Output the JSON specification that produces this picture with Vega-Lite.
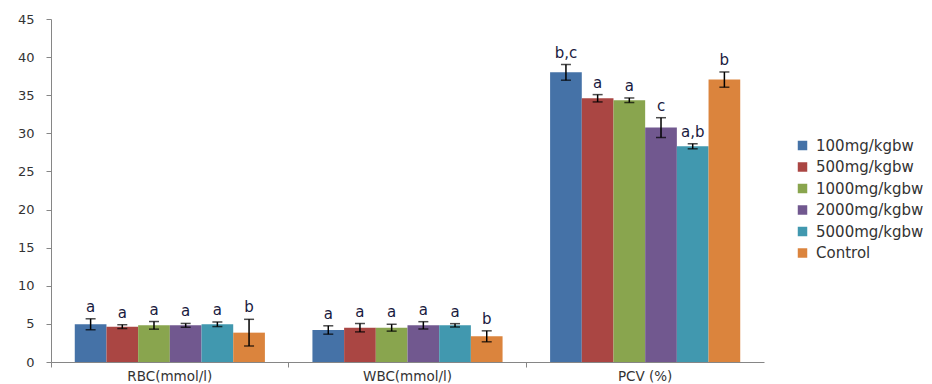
{
  "$schema": "https://vega.github.io/schema/vega-lite/v6.json",
  "autosize": "none",
  "width": 713,
  "height": 343,
  "padding": {"left": 51, "top": 19, "right": 168, "bottom": 22},
  "background": "white",
  "config": {
    "view": {"stroke": null},
    "font": "DejaVu Sans",
    "axisY": {
      "values": [0, 5, 10, 15, 20, 25, 30, 35, 40, 45],
      "grid": false,
      "labelFontSize": 13,
      "labelColor": "#333333",
      "labelPadding": 12,
      "domainColor": "#868686",
      "tickColor": "#868686",
      "tickSize": 5,
      "title": null
    }
  },
  "data": {
    "values": [
      {"param": "RBC(mmol/l)", "group": "100mg/kgbw", "v": 4.95, "e": 0.72, "lab": "a"},
      {"param": "RBC(mmol/l)", "group": "500mg/kgbw", "v": 4.64, "e": 0.25, "lab": "a"},
      {"param": "RBC(mmol/l)", "group": "1000mg/kgbw", "v": 4.81, "e": 0.5, "lab": "a"},
      {"param": "RBC(mmol/l)", "group": "2000mg/kgbw", "v": 4.81, "e": 0.25, "lab": "a"},
      {"param": "RBC(mmol/l)", "group": "5000mg/kgbw", "v": 4.95, "e": 0.3, "lab": "a"},
      {"param": "RBC(mmol/l)", "group": "Control", "v": 3.85, "e": 1.75, "lab": "b"},
      {"param": "WBC(mmol/l)", "group": "100mg/kgbw", "v": 4.2, "e": 0.55, "lab": "a"},
      {"param": "WBC(mmol/l)", "group": "500mg/kgbw", "v": 4.5, "e": 0.55, "lab": "a"},
      {"param": "WBC(mmol/l)", "group": "1000mg/kgbw", "v": 4.5, "e": 0.45, "lab": "a"},
      {"param": "WBC(mmol/l)", "group": "2000mg/kgbw", "v": 4.81, "e": 0.48, "lab": "a"},
      {"param": "WBC(mmol/l)", "group": "5000mg/kgbw", "v": 4.81, "e": 0.22, "lab": "a"},
      {"param": "WBC(mmol/l)", "group": "Control", "v": 3.37, "e": 0.72, "lab": "b"},
      {"param": "PCV (%)", "group": "100mg/kgbw", "v": 38.0, "e": 1.03, "lab": "b,c"},
      {"param": "PCV (%)", "group": "500mg/kgbw", "v": 34.6, "e": 0.48, "lab": "a"},
      {"param": "PCV (%)", "group": "1000mg/kgbw", "v": 34.34, "e": 0.3, "lab": "a"},
      {"param": "PCV (%)", "group": "2000mg/kgbw", "v": 30.75, "e": 1.3, "lab": "c"},
      {"param": "PCV (%)", "group": "5000mg/kgbw", "v": 28.3, "e": 0.33, "lab": "a,b"},
      {"param": "PCV (%)", "group": "Control", "v": 37.05, "e": 1.0, "lab": "b"}
    ]
  },
  "encoding": {
    "x": {
      "field": "param",
      "type": "nominal",
      "title": null,
      "scale": {"domain": ["RBC(mmol/l)", "WBC(mmol/l)", "PCV (%)"], "paddingInner": 0, "paddingOuter": 0},
      "axis": {
        "labelAngle": 0,
        "labelFontSize": 13.5,
        "labelColor": "#333333",
        "labelPadding": 2,
        "domainColor": "#868686",
        "tickColor": "#868686",
        "tickSize": 5,
        "bandPosition": 0
      }
    },
    "xOffset": {
      "field": "group",
      "type": "nominal",
      "scale": {
        "domain": ["100mg/kgbw", "500mg/kgbw", "1000mg/kgbw", "2000mg/kgbw", "5000mg/kgbw", "Control"],
        "paddingInner": 0,
        "paddingOuter": 0.75
      }
    }
  },
  "layer": [
    {
      "mark": {"type": "bar"},
      "encoding": {
        "y": {
          "field": "v",
          "type": "quantitative",
          "title": null,
          "scale": {"domain": [0, 45], "nice": false}
        },
        "color": {
          "field": "group",
          "type": "nominal",
          "title": null,
          "scale": {
            "domain": ["100mg/kgbw", "500mg/kgbw", "1000mg/kgbw", "2000mg/kgbw", "5000mg/kgbw", "Control"],
            "range": ["#4572A7", "#AA4643", "#89A54E", "#71588F", "#4198AF", "#DB843D"]
          },
          "legend": {
            "orient": "none",
            "legendX": 744,
            "legendY": 119,
            "symbolType": "square",
            "symbolSize": 90,
            "symbolStrokeWidth": 0,
            "labelFontSize": 15,
            "labelColor": "#333333",
            "rowPadding": 5.5,
            "labelOffset": 6
          }
        }
      }
    },
    {
      "mark": {"type": "errorbar", "color": "#000000", "thickness": 1.5, "ticks": {"size": 10, "thickness": 1.5}},
      "encoding": {
        "y": {"field": "v", "type": "quantitative", "title": null},
        "yError": {"field": "e"}
      }
    },
    {
      "transform": [{"calculate": "datum.v + datum.e", "as": "top"}],
      "mark": {"type": "text", "fontSize": 15, "color": "#1a1a40", "baseline": "bottom", "dy": -4},
      "encoding": {
        "y": {"field": "top", "type": "quantitative", "title": null},
        "text": {"field": "lab"}
      }
    }
  ]
}
